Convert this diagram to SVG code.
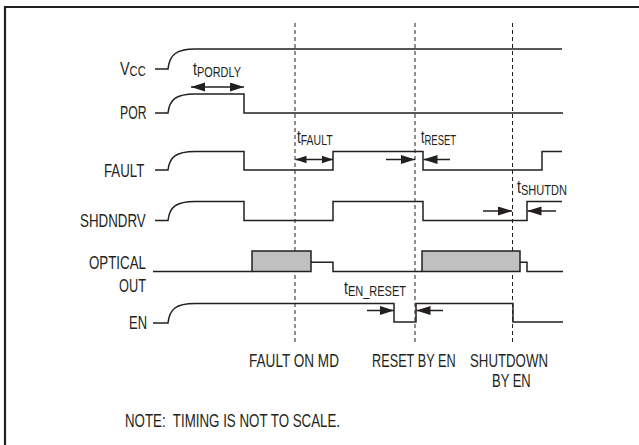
<svg xmlns="http://www.w3.org/2000/svg" width="639" height="445" viewBox="0 0 639 445">
<style>
  .t { font-family: "Liberation Sans", Arial, sans-serif; font-size: 18px; fill: #231f20; }
  .s { font-size: 14px; }
  .w { fill: none; stroke: #231f20; stroke-width: 1.5; stroke-linejoin: miter; }
  .box { fill: #c0c0c0; stroke: #231f20; stroke-width: 1.5; }
  .dash { fill: none; stroke: #231f20; stroke-width: 1; stroke-dasharray: 4 3; }
  .arr { fill: none; stroke: #231f20; stroke-width: 1.5; }
  .frame { fill: none; stroke: #231f20; stroke-width: 2.2; }
</style>
<defs>
  <marker id="ah" markerUnits="userSpaceOnUse" markerWidth="14" markerHeight="10" refX="14" refY="4.5" orient="auto-start-reverse">
    <path d="M0,0 L14,4.5 L0,9 z" fill="#231f20"/>
  </marker>
  <marker id="ahs" markerUnits="userSpaceOnUse" markerWidth="11" markerHeight="8" refX="11" refY="3.75" orient="auto-start-reverse">
    <path d="M0,0 L11,3.75 L0,7.5 z" fill="#231f20"/>
  </marker>
</defs>

<path class="frame" d="M5,445 V7 H639"/>

<g id="markers-vertical">
  <line class="dash" x1="295" y1="23" x2="295" y2="343"/>
  <line class="dash" x1="415" y1="23" x2="415" y2="343"/>
  <line class="dash" x1="512.5" y1="23" x2="512.5" y2="343"/>
</g>

<g id="vcc">
  <text class="t" transform="translate(120,75) scale(0.8,1)">V<tspan class="s" dy="1">CC</tspan></text>
  <path class="w" d="M155,69 H168 C169.5,55 176,49 195,49 H562"/>
</g>

<g id="por">
  <text class="t" transform="translate(120,119) scale(0.68,1)">POR</text>
  <path class="w" d="M155,113 H168 C169.5,99.5 176,94 195,94 H244 V113 H563"/>
</g>

<g id="fault">
  <text class="t" transform="translate(104,176.5) scale(0.737,1)">FAULT</text>
  <path class="w" d="M155,170 H168 C169.5,157 176,151.5 195,151.5 H244 V170 H333 V151.5 H423 V170 H542 V151.5 H562"/>
</g>

<g id="shdndrv">
  <text class="t" transform="translate(80,227) scale(0.742,1)">SHDNDRV</text>
  <path class="w" d="M155,220.5 H168 C169.5,207 176,201.5 195,201.5 H244 V220.5 H333 V201.5 H423 V220.5 H527 V201.5 H562"/>
</g>

<g id="optical-out">
  <text class="t" transform="translate(89,269) scale(0.74,1)">OPTICAL</text>
  <text class="t" transform="translate(119,292) scale(0.71,1)">OUT</text>
  <rect class="box" x="252" y="251" width="59" height="20.5"/>
  <rect class="box" x="422" y="251" width="98" height="20.5"/>
  <path class="w" d="M153,271.5 H252 M311,262.3 H333 V271.5 H422 M520,262.3 H527 V271.5 H563"/>
</g>

<g id="en">
  <text class="t" transform="translate(129,329) scale(0.72,1)">EN</text>
  <path class="w" d="M153,323 H168 C169.5,309 176,303.5 195,303.5 H394 V322 H416 V303.5 H513 V322 H563"/>
</g>

<g id="connectors">
  <line class="arr" x1="191" y1="87" x2="244" y2="87" marker-start="url(#ah)" marker-end="url(#ah)"/>
  <line class="arr" x1="295.5" y1="159.5" x2="333" y2="159.5" marker-start="url(#ahs)" marker-end="url(#ahs)"/>
  <line class="arr" x1="386" y1="159.5" x2="415" y2="159.5" marker-end="url(#ah)"/>
  <line class="arr" x1="450" y1="159.5" x2="423.5" y2="159.5" marker-end="url(#ah)"/>
  <line class="arr" x1="483" y1="211" x2="512" y2="211" marker-end="url(#ah)"/>
  <line class="arr" x1="556" y1="211" x2="527.5" y2="211" marker-end="url(#ah)"/>
  <line class="arr" x1="367" y1="310.5" x2="394" y2="310.5" marker-end="url(#ah)"/>
  <line class="arr" x1="443" y1="310.5" x2="416.5" y2="310.5" marker-end="url(#ah)"/>
</g>

<g id="timing-labels">
  <text class="t" transform="translate(193,75) scale(0.78,1)">t<tspan class="s" dy="2">PORDLY</tspan></text>
  <text class="t" transform="translate(297,143) scale(0.75,1)">t<tspan class="s" dy="2">FAULT</tspan></text>
  <text class="t" transform="translate(421,143) scale(0.68,1)">t<tspan class="s" dy="2">RESET</tspan></text>
  <text class="t" transform="translate(517,193) scale(0.79,1)">t<tspan class="s" dy="2">SHUTDN</tspan></text>
  <text class="t" transform="translate(344,294) scale(0.786,1)">t<tspan class="s" dy="2">EN_RESET</tspan></text>
</g>

<g id="event-labels">
  <text class="t" transform="translate(249,367) scale(0.754,1)">FAULT ON MD</text>
  <text class="t" transform="translate(372,367) scale(0.706,1)">RESET BY EN</text>
  <text class="t" transform="translate(470,367) scale(0.736,1)">SHUTDOWN</text>
  <text class="t" transform="translate(492,387) scale(0.722,1)">BY EN</text>
</g>

<g id="note">
  <text class="t" transform="translate(125,427) scale(0.74,1)" xml:space="preserve">NOTE:  TIMING IS NOT TO SCALE.</text>
</g>
</svg>
